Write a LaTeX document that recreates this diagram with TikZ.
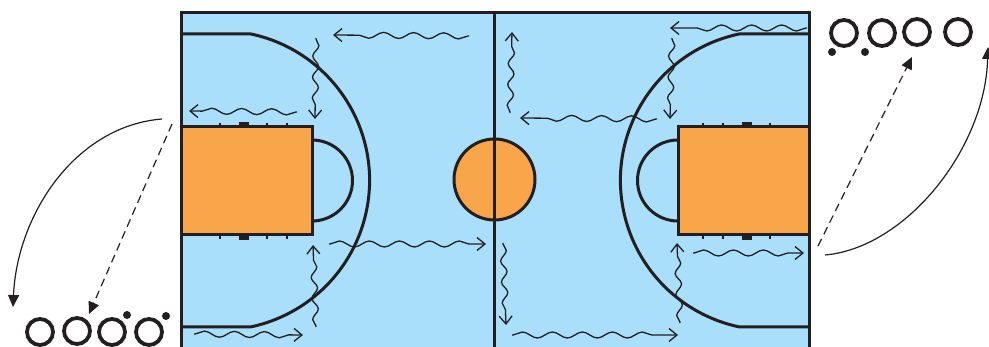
\documentclass[tikz,border=0pt]{standalone}
\usepackage{amsmath,amssymb}
\usepackage{tikz}
\usetikzlibrary{arrows.meta,decorations.pathmorphing}
\definecolor{courtblue}{HTML}{A9DFFB}
\definecolor{keyorange}{HTML}{F9A54A}
\definecolor{ink}{HTML}{231F20}

\begin{document}
\begin{tikzpicture}[x=1pt,y=-1pt,
	courtline/.style={draw=ink, line width=3pt},
	keybox/.style={courtline, fill=keyorange},
	player/.style={circle, draw=ink, line width=3.8pt, minimum size=26pt, inner sep=0pt},
	balldot/.style={circle, fill=ink, minimum size=8pt, inner sep=0pt},
	wiggle/.style={draw=ink, line width=1.3pt, -{Straight Barb[length=8pt,width=13pt,line width=1.3pt]}, decorate, decoration={snake, amplitude=3pt, segment length=#1, post length=13pt, pre length=1pt}},
	wiggle/.default=30pt,
	passline/.style={draw=ink, line width=1.2pt, -{Triangle[length=12pt,width=11pt]}}]
	\useasboundingbox (0,0) rectangle (989,347);
	\clip (0,0) rectangle (989,347);

	\fill[courtblue] (181,12.5) rectangle (809,355);
	\draw[courtline] (181,355) -- (181,12.5) -- (809,12.5) -- (809,355);

	\draw[keybox] (181,127) rectangle (312,235);
	\draw[keybox] (678,127) rectangle (809,235);
	\draw[courtline] (181,34) -- (251,34) arc[start angle=-78, end angle=78, radius=149.7] -- (181,327);
	\draw[courtline] (809,34) -- (739,34) arc[start angle=-102, end angle=-258, radius=149.7] -- (809,327);
	\draw[courtline] (312,140) arc[start angle=-90, end angle=90, radius=40.5];
	\draw[courtline] (678,140) arc[start angle=-90, end angle=-270, radius=40.5];

	\foreach \x in {220,267,287,703,723,770} {
		\draw[ink, line width=2pt] (\x,123) -- (\x,127);
		\draw[ink, line width=2pt] (\x,235) -- (\x,239);
	}
	\foreach \x in {244,747} {
		\fill[ink] (\x-5,122) rectangle (\x+5,127);
		\fill[ink] (\x-5,235) rectangle (\x+5,240);
	}

	\draw[courtline, fill=keyorange] (494.5,179.5) circle[radius=40.5];
	\draw[courtline] (494,12.5) -- (494,355);

	\foreach \n/\a/\b/\c/\d in {1/469/36/333/35, 3/297/112/189/111, 4/329/244/486/244, 6/194/334/303/335, 7/807/28/670/28, 9/657/119/520/118, 12/512/335/678/335, 14/693/253/804/253} {
		\coordinate (w\n s) at (\a,\b);
		\coordinate (w\n e) at (\c,\d);
		\draw[wiggle] (w\n s) -- (w\n e);
	}
	\foreach \n/\a/\b/\c/\d in {2/316/38/315/119, 5/316/327/313/245, 8/672/38/670/119, 10/510/113/512/32, 11/503/243/506/325, 13/680/323/677/243} {
		\coordinate (w\n s) at (\a,\b);
		\coordinate (w\n e) at (\c,\d);
		\draw[wiggle=21pt] (w\n s) -- (w\n e);
	}

	\foreach \n/\x/\y in {a/40/332, b/77/331, c/112/332, d/149/332, e/844/33, f/882/33, g/917/32, h/958/32}
		\node[player] (P\n) at (\x,\y) {};
	\foreach \n/\x/\y in {a/127/315, b/166/316, c/832/52, d/865/52}
		\node[balldot] (B\n) at (\x,\y) {};

	\coordinate (LA) at (162,119);
	\coordinate (LB) at (13,307);
	\coordinate (LC) at (172,124);
	\coordinate (LD) at (89,314);
	\coordinate (RA) at (825,255);
	\coordinate (RB) at (988,47);
	\coordinate (RC) at (818,246);
	\coordinate (RD) at (912,57);
	\draw[passline] (LA) .. controls (75,126) and (17,215) .. (LB);
	\draw[passline, dash pattern=on 8pt off 5pt] (LC) -- (LD);
	\draw[passline] (RA) .. controls (905,248) and (985,150) .. (RB);
	\draw[passline, dash pattern=on 8pt off 5pt] (RC) -- (RD);
\end{tikzpicture}
\end{document}
